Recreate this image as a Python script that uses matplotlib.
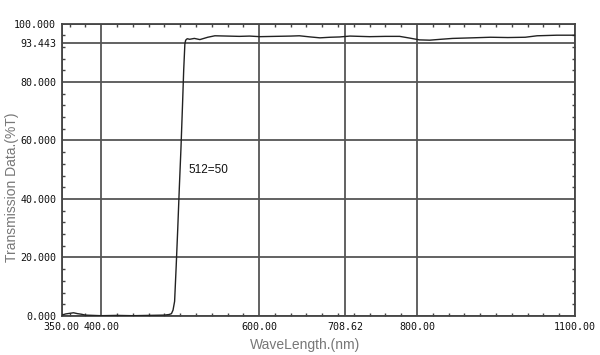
import matplotlib
matplotlib.use("Agg")
import matplotlib.pyplot as plt
from matplotlib.ticker import MultipleLocator, FixedLocator

# Data (wavelength in nm, transmission in %T)
wavelength = [350, 355, 360, 365, 370, 375, 380, 390, 400, 420, 440, 460, 480,
              486, 489, 491, 493, 495, 497, 499, 501, 503, 504.5, 506, 507,
              509, 512, 518, 525, 535, 544, 560, 575, 588, 601, 620, 640, 651,
              665, 677, 690, 702, 715, 740, 760, 778, 791, 803, 816, 830, 845,
              870, 893, 915, 937, 952, 977, 1000]
transmission = [0.3, 0.7, 0.9, 1.1, 0.8, 0.6, 0.3, 0.2, 0.1, 0.2, 0.1, 0.2, 0.3,
                0.5, 0.8, 2.0, 5.0, 17.0, 30.0, 44.0, 57.0, 72.0, 84.0, 93.0, 94.3,
                94.8, 94.6, 94.9, 94.5, 95.3, 95.8, 95.7, 95.6, 95.7, 95.5, 95.6, 95.7, 95.8,
                95.4, 95.1, 95.3, 95.4, 95.7, 95.5, 95.6, 95.6, 95.0, 94.4, 94.3, 94.6, 94.9,
                95.1, 95.3, 95.2, 95.3, 95.8, 96.0, 96.0]

x_ticks = [350, 400, 600, 708.62, 800, 1000]
x_tick_labels = ["350.00", "400.00", "600.00", "708.62", "800.00", "1100.00"]
y_ticks = [0, 20, 40, 60, 80, 93.443, 100]
y_tick_labels = ["0.000", "20.000", "40.000", "60.000", "80.000", "93.443", "100.000"]
annotation_text = "512=50"
annotation_pos = (510, 50)

fig = plt.figure(figsize=(6, 3.55), dpi=100)
ax = fig.add_axes([0.1028, 0.1099, 0.8555, 0.8239])

ax.plot(wavelength, transmission, color="#222222", lw=1.0, zorder=3)

ax.set_xlim(350, 1000)
ax.set_ylim(0, 100)

ax.xaxis.set_major_locator(FixedLocator(x_ticks))
ax.set_xticklabels(x_tick_labels)
ax.yaxis.set_major_locator(FixedLocator(y_ticks))
ax.set_yticklabels(y_tick_labels)
ax.xaxis.set_minor_locator(MultipleLocator(20))
ax.yaxis.set_minor_locator(MultipleLocator(4))

ax.grid(True, which="major", color="#555555", lw=1.3)
ax.tick_params(which="both", direction="in", top=True, right=True,
               colors="#444444", labelcolor="#111111")
ax.tick_params(which="major", length=0, pad=4, labelsize=7.2)
ax.tick_params(which="minor", length=2.5, width=1.0)
for lab in ax.get_xticklabels() + ax.get_yticklabels():
    lab.set_family("DejaVu Sans Mono")

for sp in ax.spines.values():
    sp.set_color("#444444")
    sp.set_linewidth(1.3)

ax.set_xlabel("WaveLength.(nm)", fontsize=10, color="#777777",
              family="Liberation Sans")
ax.set_ylabel("Transmission Data.(%T)", fontsize=10, color="#777777",
              family="Liberation Sans")
ax.xaxis.set_label_coords(0.474, -0.076)
ax.yaxis.set_label_coords(-0.083, 0.44)

ax.text(annotation_pos[0], annotation_pos[1], annotation_text, fontsize=8.5,
        family="Liberation Sans", color="#111111", ha="left", va="center")

fig.savefig("out.png", dpi=100)
